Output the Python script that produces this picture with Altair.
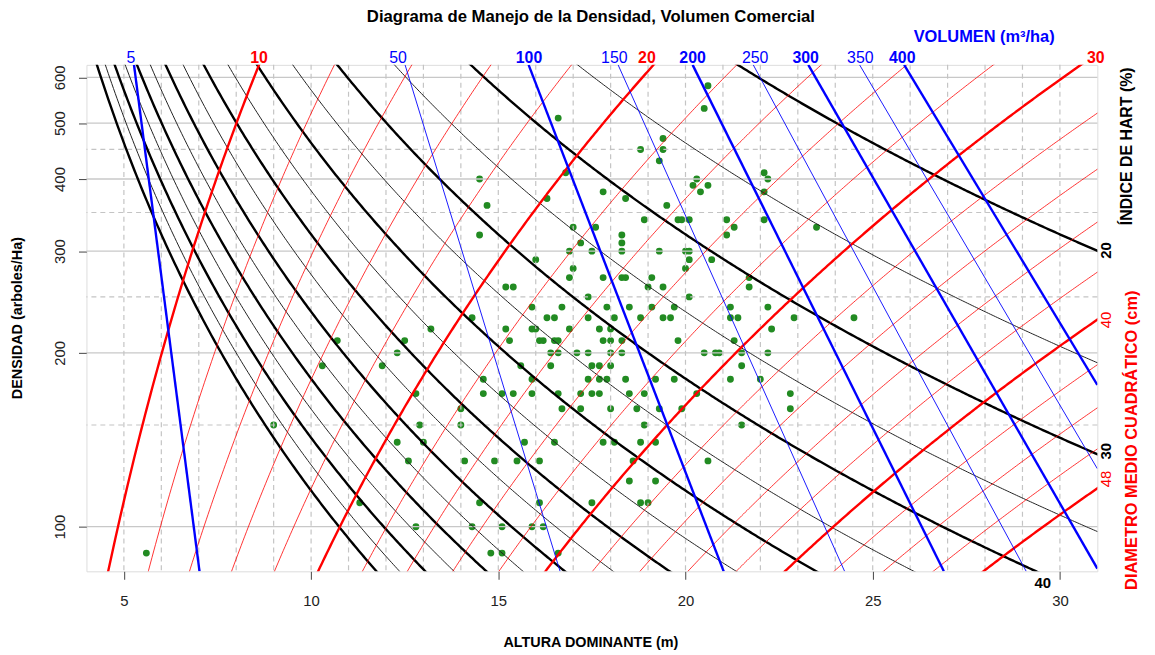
import numpy as np
import pandas as pd
import altair as alt

FONT = "Liberation Sans"

# ---------------- data ----------------
# observed stands: dominant height (m) and density (trees/ha)
obs_H = [
    20.6,
    20.5,
    16.6,
    19.4,
    18.8, 19.4,
    19.3,
    16.8, 22.1,
    14.5, 20.3, 22.2,
    20.2, 20.6,
    17.8, 20.4, 22.1,
    16.3, 18.4,
    14.7, 19.5,
    18.9, 19.8, 19.9, 20.1, 21.1, 22.1,
    17.0, 17.6, 21.3, 23.5,
    14.5, 18.3, 21.1,
    17.2, 18.3,
    16.9, 17.5, 18.3, 19.3, 20.0, 20.1,
    16.0, 20.1, 20.7,
    17.0, 20.0,
    16.9, 17.8, 18.3, 18.4, 19.1, 21.7,
    15.2, 15.4, 19.0, 19.4, 21.7,
    17.4, 20.1,
    15.9, 16.7, 17.9, 18.5, 19.1, 19.7, 21.2, 22.2,
    14.3, 16.3, 16.5, 17.4, 18.1, 18.8, 19.4, 19.6, 21.2, 21.4, 22.9, 24.5,
    13.2, 15.2, 15.9, 16.0, 16.9, 17.7, 18.0, 22.3,
    10.7, 12.5, 15.3, 16.1, 16.2, 16.5, 16.6, 17.8, 18.0, 18.3, 19.8, 21.3,
    12.3, 16.4, 16.6, 17.1, 17.4, 18.0, 18.3, 20.5, 20.8, 20.9, 21.5, 22.2,
    10.3, 11.9, 15.6, 16.4, 17.5, 17.7, 18.0, 21.5,
    14.6, 15.9, 17.4, 17.7, 17.9, 18.4, 19.2, 19.7, 21.2, 22.0,
    12.8, 14.6, 15.1, 15.4, 15.9, 16.6, 17.2, 17.5, 17.7, 18.5, 18.9, 20.3, 22.8,
    14.0, 16.7, 17.2, 18.0, 18.7, 19.3, 19.9, 22.8,
    9.0, 12.9, 14.0, 18.9, 21.5,
    12.3, 13.0, 15.7, 16.5, 17.8, 18.1, 18.8, 19.2,
    12.6, 14.1, 14.9, 15.5, 16.1, 18.6, 20.6,
    18.5, 19.2,
    11.3, 14.5, 16.1, 17.5, 18.8, 19.0,
    12.8, 14.3, 15.1, 15.9, 16.2,
    5.6, 14.8, 15.1, 16.6,
]
obs_N = (
    [580] * 1 + [530] * 1 + [510] * 1 + [470] * 1 + [450] * 2 + [430] * 1
    + [410] * 2 + [400] * 3 + [390] * 2 + [380] * 3 + [370] * 2 + [360] * 2
    + [340] * 6 + [330] * 4 + [320] * 3 + [310] * 2 + [300] * 6 + [290] * 3
    + [280] * 2 + [270] * 6 + [260] * 5 + [250] * 2 + [240] * 8 + [230] * 12
    + [220] * 8 + [210] * 12 + [200] * 12 + [190] * 8 + [180] * 10
    + [170] * 13 + [160] * 8 + [150] * 5 + [140] * 8 + [130] * 7 + [120] * 2
    + [110] * 6 + [100] * 5 + [90] * 4
)

# Hart index isolines (%), thick ones every 10
ih_levels = [20, 25, 30, 35, 40, 45, 50, 55, 60, 65, 70, 75, 80, 85, 90, 95, 100]
ih_bold = [20, 30, 40, 50, 60, 70, 80, 90, 100]
HART_K = 10746.0          # triangular-spacing Hart index constant

# quadratic mean diameter isolines (cm): ln N = A + B ln H + C ln Dq (fitted to picture)
dq_levels = [10, 12, 14, 16, 18, 20, 22, 24, 26, 28, 30, 32, 34, 36, 38, 40, 42, 44, 46, 48]
dq_bold = [10, 20, 30, 40, 48]
DQ_A, DQ_B, DQ_C = 8.054, 3.2, -3.69

# commercial volume isolines (m3/ha): end points read on the frame
vol_levels = [5, 50, 100, 150, 200, 250, 300, 350, 400]
vol_bold = [5, 100, 200, 300, 400]
vol_H0 = [5.27, 12.51, 15.81, 18.20, 20.19, 21.81, 23.28, 24.65, 25.84]
vol_N0 = [630.5] * 9
vol_H1 = [7.02, 16.65, 21.02, 24.25, 26.90, 29.10, 31.0, 31.0, 31.0]
vol_N1 = [83.7, 83.7, 83.7, 83.7, 83.7, 83.7, 84.6, 126.0, 176.0]

# grid
h_solid = [100, 200, 300, 400, 500, 600]
h_dashed = [150, 250, 350, 450]
v_dashed = list(range(5, 31))

# label annotations on the top margin (text, H position)
top_vol_text = ["5", "50", "150", "250", "350"]
top_vol_H = [5.19, 12.32, 18.10, 21.86, 24.67]
top_volb_text = ["100", "200", "300", "400"]
top_volb_H = [15.82, 20.19, 23.21, 25.79]
top_dq_text = ["10", "20", "30"]
top_dq_H = [8.61, 18.97, 30.96]

X_DOM = [4.0, 31.0]
Y_DOM = [83.7, 630.5]

# ---------------- build line tables ----------------
rows = []
Hgrid = np.linspace(3.6, 31.6, 600)
for ih in ih_levels:
    N = (HART_K / (ih * Hgrid)) ** 2
    for h, n in zip(Hgrid, N):
        if 50 < n < 1200:
            rows.append(dict(H=h, N=n, id=f"ih{ih}", fam="ih", bold=ih in ih_bold))
for d in dq_levels:
    N = np.exp(DQ_A + DQ_B * np.log(Hgrid) + DQ_C * np.log(d))
    for h, n in zip(Hgrid, N):
        if 50 < n < 1200:
            rows.append(dict(H=h, N=n, id=f"dq{d}", fam="dq", bold=d in dq_bold))
for v, h0, n0, h1, n1 in zip(vol_levels, vol_H0, vol_N0, vol_H1, vol_N1):
    rows.append(dict(H=h0, N=n0, id=f"v{v}", fam="v", bold=v in vol_bold))
    rows.append(dict(H=h1, N=n1, id=f"v{v}", fam="v", bold=v in vol_bold))
lines = pd.DataFrame(rows)

pts = pd.DataFrame({"H": obs_H, "N": obs_N})

xs = alt.Scale(domain=X_DOM, nice=False, zero=False)
ys = alt.Scale(type="log", domain=Y_DOM, nice=False)

x_axis = alt.Axis(values=[5, 10, 15, 20, 25, 30], grid=False, domain=False,
                  tickSize=8, tickColor="#444", tickWidth=1, labelFontSize=15,
                  labelColor="#222", labelPadding=14, labelFont=FONT, title=None)
y_axis = alt.Axis(values=h_solid, grid=False, domain=False, tickSize=8,
                  tickColor="#444", tickWidth=1, labelFontSize=15, labelColor="#222",
                  labelAngle=-90, labelAlign="center", labelBaseline="bottom",
                  labelPadding=11, labelFont=FONT, title=None)

X = lambda: alt.X("H:Q", scale=xs, axis=x_axis)
Y = lambda: alt.Y("N:Q", scale=ys, axis=y_axis)

base_pts = alt.Chart(pts).mark_circle(size=48, color="#228B22", opacity=1).encode(
    x=X(), y=Y())

grid_solid = alt.Chart(pd.DataFrame({"N": h_solid})).mark_rule(
    color="#c8c8c8", strokeWidth=1.3).encode(y=Y())
grid_hd = alt.Chart(pd.DataFrame({"N": h_dashed})).mark_rule(
    color="#c4c4c4", strokeWidth=1.2, strokeDash=[5, 4]).encode(y=Y())
grid_vd = alt.Chart(pd.DataFrame({"H": v_dashed})).mark_rule(
    color="#c4c4c4", strokeWidth=1.2, strokeDash=[5, 4]).encode(x=X())


def line_layer(fam, bold, color, width, opacity=1.0):
    d = lines[(lines.fam == fam) & (lines.bold == bold)]
    return alt.Chart(d).mark_line(color=color, strokeWidth=width, clip=True,
                                  opacity=opacity).encode(
        x=X(), y=Y(), detail="id:N", order="H:Q")


layers = [
    base_pts, grid_solid, grid_hd, grid_vd,
    line_layer("ih", False, "#222222", 1.0),
    line_layer("ih", True, "#000000", 2.4),
    line_layer("dq", False, "#ff0000", 0.8),
    line_layer("dq", True, "#ff0000", 2.4),
    line_layer("v", False, "#0000ff", 0.9),
    line_layer("v", True, "#0000ff", 2.4),
]


def top_text(texts, hs, color, weight):
    d = pd.DataFrame({"t": texts, "H": hs})
    return alt.Chart(d).mark_text(color=color, fontWeight=weight, fontSize=16,
                                  font=FONT, baseline="alphabetic", align="center").encode(
        x=X(), y=alt.value(-2), text="t:N")


layers += [
    top_text(top_vol_text, top_vol_H, "#0000ff", "normal"),
    top_text(top_volb_text, top_volb_H, "#0000ff", "bold"),
    top_text(top_dq_text, top_dq_H, "#ff0000", "bold"),
]


def ptext(txt, x, y, color="#000", size=13, weight="bold", angle=0, align="center",
          baseline="middle"):
    return alt.Chart(pd.DataFrame({"t": [txt]})).mark_text(
        color=color, fontSize=size, fontWeight=weight, font=FONT, angle=angle,
        align=align, baseline=baseline).encode(
        x=alt.value(x), y=alt.value(y), text="t:N")


layers += [
    ptext("Diagrama de Manejo de la Densidad, Volumen Comercial", 508, -48, size=16.8),
    ptext("VOLUMEN (m³/ha)", 904, -28, color="#0000ff", size=16.5),
    ptext("ALTURA DOMINANTE (m)", 508, 582, size=14.5),
    ptext("DENSIDAD (arboles/Ha)", -69, 255, size=14.5, angle=270),
    ptext("ÍNDICE DE HART (%)", 1048, 82, size=16, angle=270),
    ptext("DIAMETRO MEDIO CUADRÁTICO (cm)", 1053, 378, color="#ff0000", size=16.5, angle=270),
    ptext("20", 1027, 187, size=15, angle=270),
    ptext("30", 1027, 389, size=15, angle=270),
    ptext("40", 1027, 257, color="#ff0000", size=15, weight="normal", angle=270),
    ptext("48", 1027, 417, color="#ff0000", size=15, weight="normal", angle=270),
    ptext("40", 963, 522, size=15),
]

chart = alt.layer(*layers).properties(
    width=1018, height=510,
    autosize=alt.AutoSizeParams(type="none"),
    padding={"left": 79, "top": 55, "right": 50, "bottom": 82},
).configure_view(stroke="#555555", strokeWidth=1.2).configure(background="white")

chart.save("out.html", embed_options={"renderer": "svg", "actions": False})
